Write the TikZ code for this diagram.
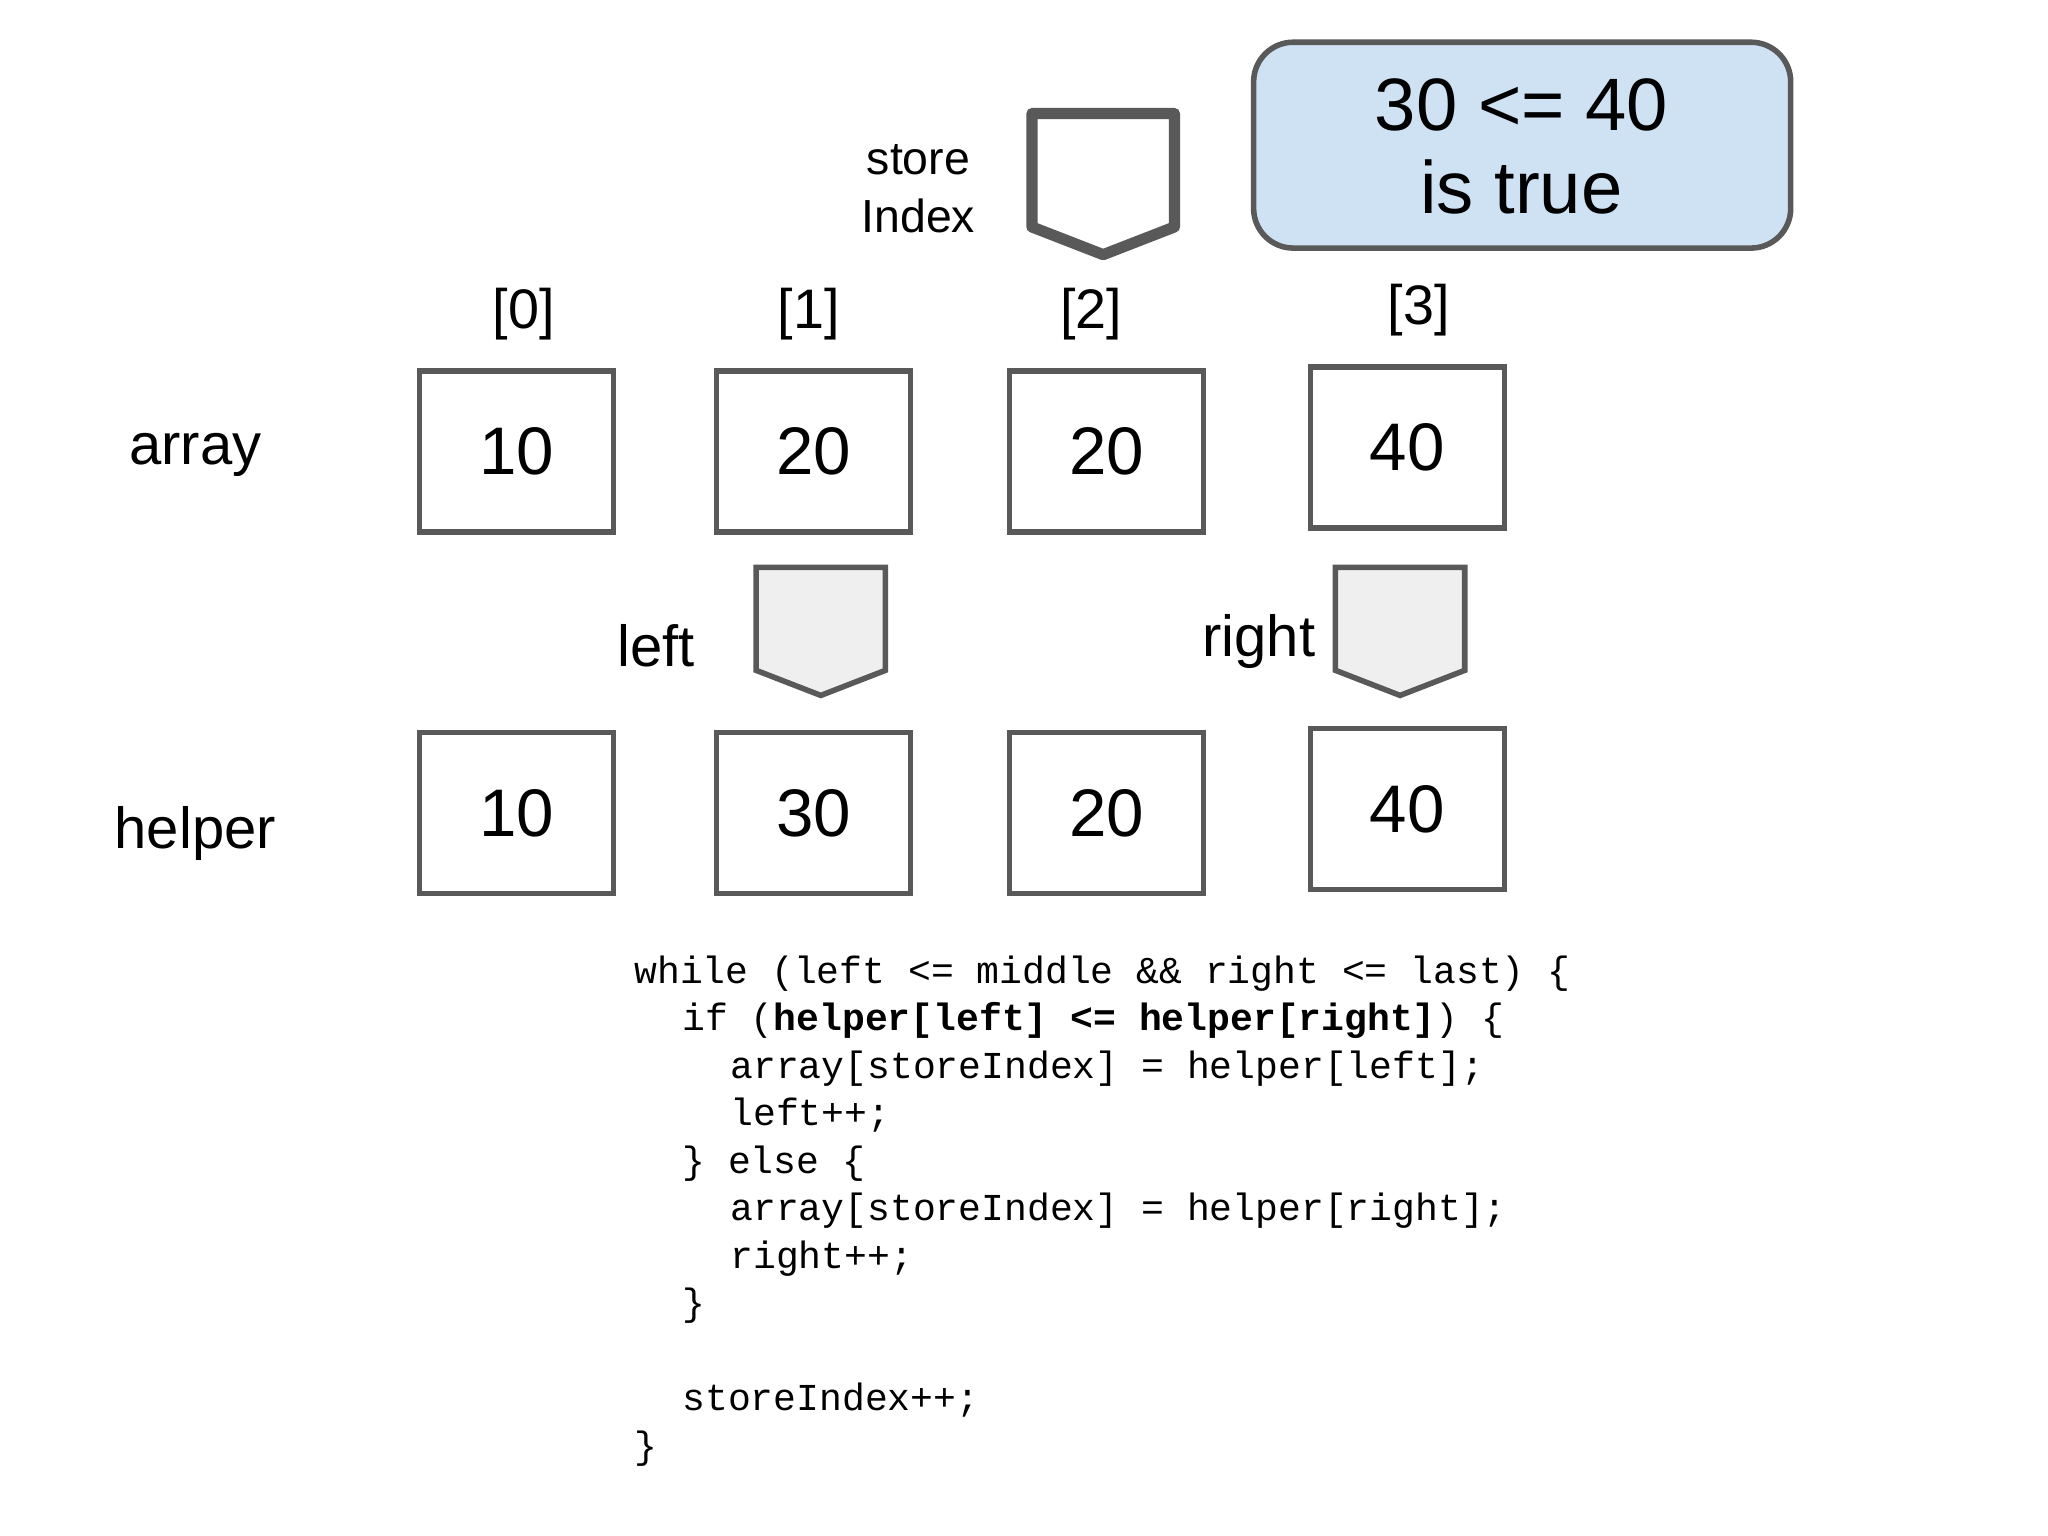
\documentclass[tikz,border=0pt]{standalone}
\usepackage{fontspec}
\setmainfont{Liberation Sans}
\setmonofont{Liberation Mono}
\definecolor{boxline}{HTML}{595959}
\definecolor{ptrfill}{HTML}{EFEFEF}
\definecolor{callfill}{HTML}{CFE2F3}
\begin{document}
\begin{tikzpicture}[x=0.01cm,y=-0.01cm,
  cell/.style={draw=boxline,line width=1.2pt,minimum width=1.47cm,minimum height=1.22cm,
    inner sep=0pt,font=\fontsize{14.5}{17}\selectfont},
  idx/.style={font=\fontsize{12}{14}\selectfont},
  lbl/.style={font=\fontsize{12.5}{15}\selectfont},
  code/.style={anchor=base west,inner sep=0pt,font=\ttfamily\fontsize{8.2}{10}\selectfont}]
\useasboundingbox (0,0) rectangle (1552,1164);

% index labels
\node[idx] (i0) at (397,238) {[0]};
\node[idx] (i1) at (613,238) {[1]};
\node[idx] (i2) at (827,238) {[2]};
\node[idx] (i3) at (1075,235) {[3]};

% rows
\node[lbl] (arr) at (148,345) {array};
\node[lbl] (hlp) at (148,632) {helper};
\node[cell] (a0) at (391.5,342) {10};
\node[cell] (a1) at (616.5,342) {20};
\node[cell] (a2) at (838.5,342) {20};
\node[cell] (a3) at (1066.5,339) {40};
\node[cell] (h0) at (391.5,616) {10};
\node[cell] (h1) at (616.5,616) {30};
\node[cell] (h2) at (838.5,616) {20};
\node[cell] (h3) at (1066.5,613) {40};

% pointers
\draw[draw=boxline,line width=2.4pt,fill=white,line join=round]
  (782,86) -- (890,86) -- (890,172) -- (836,193) -- (782,172) -- cycle;
\node[font=\fontsize{10}{12.5}\selectfont,align=center] (si) at (696,143) {store\\Index};
\draw[draw=boxline,line width=1.2pt,fill=ptrfill]
  (573,430) -- (671,430) -- (671,508) -- (622,527) -- (573,508) -- cycle;
\node[lbl] (lp) at (497,489) {left};
\draw[draw=boxline,line width=1.2pt,fill=ptrfill]
  (1012,430) -- (1110,430) -- (1110,508) -- (1061,527) -- (1012,508) -- cycle;
\node[lbl] (rp) at (954,486) {right};

% callout
\draw[draw=boxline,line width=1.2pt,fill=callfill,rounded corners=0.3cm]
  (950,32) rectangle (1357,188);
\node[font=\fontsize{16}{18}\selectfont,align=center] (call) at (1153,111) {30 <= 40\\is true};

% code
\node[code] (c1) at (480,745) {while (left <= middle \&\& right <= last) \{};
\node[code] (c2) at (516.4,781) {if (\textbf{helper[left] <= helper[right]}) \{};
\node[code] (c3) at (552.8,817) {array[storeIndex] = helper[left];};
\node[code] (c4) at (552.8,853) {left++;};
\node[code] (c5) at (516.4,889) {\} else \{};
\node[code] (c6) at (552.8,925) {array[storeIndex] = helper[right];};
\node[code] (c7) at (552.8,961) {right++;};
\node[code] (c8) at (516.4,997) {\}};
\node[code] (c9) at (516.4,1069) {storeIndex++;};
\node[code] (c10) at (480,1105) {\}};
\end{tikzpicture}
\end{document}
